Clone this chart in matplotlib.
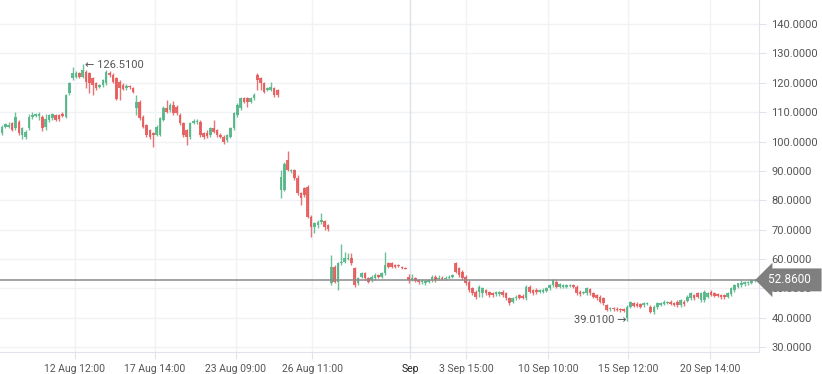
import matplotlib
matplotlib.use("Agg")
import matplotlib.pyplot as plt
import matplotlib.transforms as mtransforms
import numpy as np

plt.rcParams['font.family'] = ['Roboto', 'DejaVu Sans']

# candle data
opens = [
    102.8, 105.0, 105.0, 106.2, 104.5, 106.7, 102.2, 101.6, 104.5, 108.4,
    108.8, 108.6, 108.4, 105.0, 107.3, 107.9, 109.0, 109.0, 109.4, 108.4,
    116.4, 121.5, 122.1, 123.2, 122.1, 123.8, 123.2, 121.5, 119.8, 118.7,
    119.2, 119.8, 123.2, 122.6, 121.6, 120.2, 119.4, 118.2, 118.9, 118.1,
    111.3, 113.6, 108.4, 105.6, 103.9, 102.8, 102.2, 102.2, 107.3, 111.3,
    110.7, 112.4, 111.9, 109.0, 106.2, 103.9, 101.6, 106.2, 106.5, 106.7,
    102.8, 102.8, 102.2, 104.5, 103.9, 102.2, 101.6, 100.5, 101.6, 104.5,
    109.0, 111.3, 114.7, 114.7, 113.6, 114.7, 122.6, 121.5, 119.8, 117.6,
    117.6, 118.1, 117.5, 83.5, 83.5, 93.7, 89.8, 90.3, 87.4, 82.3,
    84.0, 84.6, 74.4, 71.0, 71.6, 72.5, 72.9, 71.5, 51.7, 57.4,
    52.3, 58.5, 59.1, 60.0, 60.2, 56.8, 51.7, 54.0, 55.1, 53.4,
    52.8, 53.4, 54.5, 53.9, 55.1, 58.5, 58.5, 57.9, 57.9, 57.3,
    57.0, 53.9, 52.8, 53.4, 52.8, 52.0, 51.7, 52.2, 52.8, 53.9,
    53.2, 53.6, 53.2, 53.4, 54.0, 58.5, 56.8, 55.6, 53.9, 52.2,
    50.0, 48.8, 48.8, 48.3, 49.4, 48.6, 48.3, 47.9, 47.9, 48.8,
    48.3, 46.6, 45.4, 46.6, 47.7, 47.5, 46.6, 50.5, 49.4, 49.4,
    48.8, 48.8, 49.1, 50.0, 51.1, 52.2, 50.5, 50.5, 50.6, 50.7,
    51.1, 50.5, 48.8, 48.3, 48.3, 49.7, 48.3, 47.7, 47.1, 46.6,
    44.3, 42.9, 43.2, 43.0, 42.9, 42.8, 39.8, 43.7, 45.0, 44.8,
    44.5, 44.3, 44.7, 43.7, 42.0, 43.5, 44.3, 44.6, 44.9, 45.4,
    45.1, 45.4, 44.3, 45.4, 45.8, 46.6, 47.7, 48.3, 46.0, 46.0,
    47.1, 48.8, 48.3, 48.0, 47.7, 47.7, 47.1, 48.0, 49.4, 50.5,
    51.1, 51.4, 51.7, 51.9, 52.6,
]
highs = [
    105.5, 106.3, 106.5, 106.8, 110.0, 107.2, 105.0, 104.0, 109.2, 110.0,
    109.8, 110.1, 109.0, 109.2, 109.5, 109.6, 109.4, 109.3, 110.0, 116.3,
    120.4, 125.5, 124.0, 123.8, 126.51, 124.4, 123.8, 122.0, 120.3, 119.7,
    121.4, 124.3, 124.0, 123.5, 122.0, 120.8, 120.0, 119.6, 119.4, 118.6,
    116.0, 114.2, 109.0, 106.0, 104.3, 103.2, 105.5, 108.4, 112.0, 114.1,
    113.0, 113.8, 112.3, 109.6, 106.7, 104.4, 106.7, 107.5, 107.6, 107.3,
    103.3, 103.9, 105.0, 107.3, 104.4, 102.8, 102.1, 102.7, 105.0, 110.2,
    113.0, 115.3, 115.3, 115.2, 115.2, 116.4, 123.2, 122.0, 120.3, 118.6,
    120.4, 118.6, 118.0, 90.3, 93.0, 96.7, 90.8, 90.8, 88.6, 82.8,
    84.6, 85.1, 74.9, 72.6, 73.3, 75.5, 73.4, 72.0, 61.3, 57.9,
    59.0, 65.0, 62.5, 61.9, 61.9, 57.3, 54.0, 55.6, 55.6, 53.9,
    54.4, 55.1, 55.0, 55.6, 62.5, 59.0, 58.8, 58.4, 58.2, 57.6,
    57.4, 54.7, 54.7, 53.9, 53.3, 53.0, 53.0, 53.3, 54.5, 54.4,
    54.5, 54.2, 54.1, 54.4, 55.0, 59.1, 57.3, 56.1, 54.4, 52.7,
    50.5, 49.3, 51.1, 50.5, 49.9, 49.1, 48.8, 49.1, 49.1, 49.3,
    48.8, 47.1, 47.1, 47.6, 48.2, 48.0, 51.0, 51.0, 49.9, 50.0,
    49.9, 50.0, 50.5, 51.6, 53.3, 52.7, 51.8, 51.6, 51.5, 51.5,
    51.5, 51.0, 49.3, 49.2, 50.5, 50.2, 48.8, 48.2, 47.6, 47.0,
    44.8, 43.7, 43.7, 43.5, 43.3, 43.2, 44.2, 45.7, 45.5, 45.2,
    45.0, 45.4, 45.4, 44.2, 44.2, 45.4, 45.5, 45.9, 45.8, 45.9,
    45.5, 46.0, 46.2, 45.9, 47.6, 48.8, 48.2, 48.8, 48.8, 49.3,
    48.8, 49.4, 48.8, 48.5, 48.2, 48.2, 48.9, 50.5, 51.6, 51.9,
    52.8, 52.6, 52.6, 53.0, 53.2,
]
lows = [
    102.3, 104.5, 104.6, 103.5, 104.0, 102.3, 101.0, 100.8, 104.0, 107.5,
    108.3, 107.4, 103.6, 103.9, 106.8, 107.4, 107.0, 107.1, 108.4, 108.0,
    115.9, 121.0, 121.7, 121.8, 121.8, 118.1, 116.4, 115.8, 117.6, 118.2,
    118.7, 119.3, 122.1, 119.8, 114.0, 114.0, 117.4, 117.6, 117.8, 116.5,
    109.0, 107.4, 104.5, 101.7, 101.0, 98.2, 101.8, 101.8, 106.9, 109.8,
    110.2, 109.0, 109.0, 105.6, 101.7, 98.8, 101.0, 105.8, 106.0, 101.7,
    101.0, 101.2, 101.7, 102.8, 101.7, 101.1, 99.3, 100.0, 101.1, 104.0,
    108.5, 110.8, 113.0, 111.8, 113.1, 114.2, 117.5, 117.5, 116.4, 117.1,
    117.1, 115.3, 115.3, 80.6, 83.0, 89.8, 89.3, 86.9, 81.8, 78.4,
    81.2, 73.9, 67.6, 68.7, 70.4, 72.0, 70.0, 69.5, 51.1, 51.7,
    49.4, 58.0, 58.6, 59.6, 58.0, 50.5, 51.2, 53.5, 52.9, 51.8,
    52.3, 52.9, 53.4, 53.4, 54.6, 56.8, 56.9, 57.0, 57.3, 56.7,
    56.5, 51.7, 52.5, 52.0, 51.5, 51.5, 51.2, 51.7, 52.3, 52.3,
    52.9, 52.9, 52.8, 53.0, 53.6, 55.1, 54.0, 52.9, 51.2, 48.9,
    47.8, 46.4, 47.1, 47.1, 47.8, 47.2, 47.2, 47.4, 47.4, 47.2,
    46.1, 44.4, 44.9, 46.1, 46.3, 46.3, 46.1, 48.3, 47.8, 48.1,
    48.3, 48.3, 48.6, 49.5, 50.6, 50.0, 50.0, 50.0, 50.2, 50.3,
    50.2, 47.8, 47.4, 47.9, 47.8, 47.8, 46.6, 46.1, 44.9, 44.4,
    42.1, 42.4, 42.3, 42.2, 42.0, 41.8, 39.01, 43.2, 43.6, 43.6,
    43.2, 43.7, 44.4, 41.5, 41.2, 43.0, 43.9, 44.2, 44.5, 44.2,
    43.8, 43.7, 43.7, 44.0, 45.3, 46.1, 46.1, 46.7, 45.5, 45.4,
    46.6, 47.3, 47.1, 47.0, 46.4, 46.4, 46.6, 47.5, 48.9, 50.0,
    50.6, 50.9, 51.2, 51.5, 52.2,
]
closes = [
    105.0, 105.8, 105.6, 103.9, 108.4, 102.8, 104.5, 103.3, 108.4, 109.0,
    109.2, 109.3, 104.5, 107.5, 109.0, 109.2, 107.3, 107.5, 108.7, 115.8,
    119.8, 123.2, 123.2, 122.1, 124.3, 120.3, 119.8, 119.2, 118.1, 119.2,
    120.9, 123.8, 122.6, 120.3, 114.5, 118.3, 117.9, 118.9, 118.4, 116.9,
    113.6, 107.9, 105.0, 102.2, 101.6, 102.2, 105.0, 107.9, 111.3, 110.2,
    112.4, 109.6, 109.6, 106.2, 102.2, 101.6, 106.2, 106.9, 107.1, 102.2,
    101.6, 101.8, 104.5, 103.3, 102.2, 101.6, 99.9, 102.2, 104.5, 109.6,
    112.4, 114.7, 113.6, 113.6, 114.7, 115.8, 120.9, 119.8, 117.0, 118.1,
    118.7, 115.8, 115.8, 88.0, 92.5, 90.3, 90.3, 87.4, 82.3, 80.6,
    81.8, 74.4, 71.0, 72.1, 72.7, 73.3, 71.0, 70.2, 57.4, 52.3,
    58.5, 59.0, 60.2, 60.2, 58.5, 51.1, 53.6, 55.1, 53.4, 52.3,
    53.9, 54.4, 53.9, 55.1, 57.9, 57.4, 57.4, 57.3, 57.6, 57.0,
    56.7, 52.8, 53.6, 52.5, 52.0, 52.5, 52.5, 52.8, 53.9, 52.8,
    53.6, 53.3, 53.6, 53.9, 54.5, 55.6, 54.5, 53.4, 51.7, 49.4,
    48.3, 47.1, 50.5, 50.0, 48.3, 47.7, 47.7, 48.6, 48.6, 47.7,
    46.6, 44.9, 46.6, 47.1, 46.8, 46.8, 50.5, 48.8, 48.3, 48.6,
    49.4, 49.4, 50.0, 51.1, 52.8, 50.5, 51.3, 51.1, 51.1, 51.1,
    50.6, 48.3, 47.9, 48.8, 50.0, 48.3, 47.1, 46.6, 45.4, 44.9,
    42.6, 43.2, 42.8, 42.6, 42.5, 42.3, 43.7, 45.2, 44.1, 44.1,
    43.7, 44.9, 45.0, 42.0, 43.7, 44.9, 45.1, 45.4, 45.4, 44.6,
    44.3, 44.3, 46.0, 44.5, 47.1, 48.3, 46.6, 47.1, 48.3, 48.8,
    48.3, 47.7, 47.4, 47.4, 46.9, 46.9, 48.5, 50.0, 51.1, 51.7,
    51.9, 52.2, 52.2, 52.8, 52.86,
]

tick_labels = ['12 Aug 12:00', '17 Aug 14:00', '23 Aug 09:00', '26 Aug 11:00',
               'Sep', '3 Sep 15:00', '10 Sep 10:00', '15 Sep 12:00', '20 Sep 14:00']
tick_idx = [21.7, 45.5, 69.6, 92.3, 121.4, 138.1, 162.5, 186.3, 210.7]
price_ticks = [30, 40, 50, 60, 70, 80, 90, 100, 110, 120, 130, 140]

GREEN = '#55b588'
RED = '#e65b5c'
GRID = '#f0f2f6'
TXT = '#555555'

o = np.array(opens); h = np.array(highs); l = np.array(lows); c = np.array(closes)
x = np.arange(len(o))
up = c >= o
cols = np.where(up, GREEN, RED)

fig = plt.figure(figsize=(8.22, 3.74), dpi=100)
ax = fig.add_axes([0, 22/374, 759/822, 352/374])

ax.set_xlim(-0.6, 225.3)
ax.set_ylim(28.3, 148.2)

# grid
for t in price_ticks:
    ax.axhline(t, color=GRID, lw=1, zorder=0)
for t, lab in zip(tick_idx, tick_labels):
    ax.axvline(t, color='#dde1e8' if lab == 'Sep' else GRID, lw=1, zorder=0)

# candles
ax.vlines(x, l, h, colors=cols, lw=1, alpha=0.85, zorder=2)
body = np.maximum(np.abs(c - o), 0.35)
ax.bar(x, body, bottom=np.minimum(o, c), width=0.78, color=cols, alpha=0.9,
       linewidth=0, zorder=3)

# last price line
last = closes[-1]
ax.axhline(last, color='#8a8a8a', lw=1.1, zorder=4)

# high / low marks
hi = int(np.argmax(h)); lo = int(np.argmin(l))
ax.text(hi + 0.6, h[hi] - 0.3, '\u2190 %.4f' % h[hi], fontsize=8, color=TXT,
        ha='left', va='center', zorder=5)
ax.text(lo - 0.2, l[lo] + 0.2, '%.4f \u2192' % l[lo], fontsize=8, color=TXT,
        ha='right', va='center', zorder=5)

# axes styling
for s in ['top', 'left']:
    ax.spines[s].set_visible(False)
ax.spines['right'].set_color('#e0e3eb')
ax.spines['bottom'].set_color('#e0e3eb')
ax.yaxis.tick_right()
ax.set_yticks(price_ticks)
ax.set_yticklabels(['%.4f' % v for v in price_ticks])
ax.set_xticks(tick_idx)
ax.set_xticklabels(tick_labels)
ax.tick_params(axis='y', length=5, color='#e0e3eb', labelsize=8, labelcolor=TXT, pad=4)
ax.tick_params(axis='x', length=5, color='#e0e3eb', labelsize=7.5, labelcolor=TXT, pad=4)
for t in ax.get_xticklabels():
    if t.get_text() == 'Sep':
        t.set_color('#222222')

# price label on the axis
trans = mtransforms.blended_transform_factory(ax.transAxes, ax.transData)
ax.text(1.012, last, '%.4f  ' % last, transform=trans, fontsize=8.5, color='white',
        ha='left', va='center', zorder=6, clip_on=False,
        bbox=dict(boxstyle='larrow,pad=0.42', fc='#7f7f7f', ec='none'))

fig.savefig('out.png', dpi=100)
